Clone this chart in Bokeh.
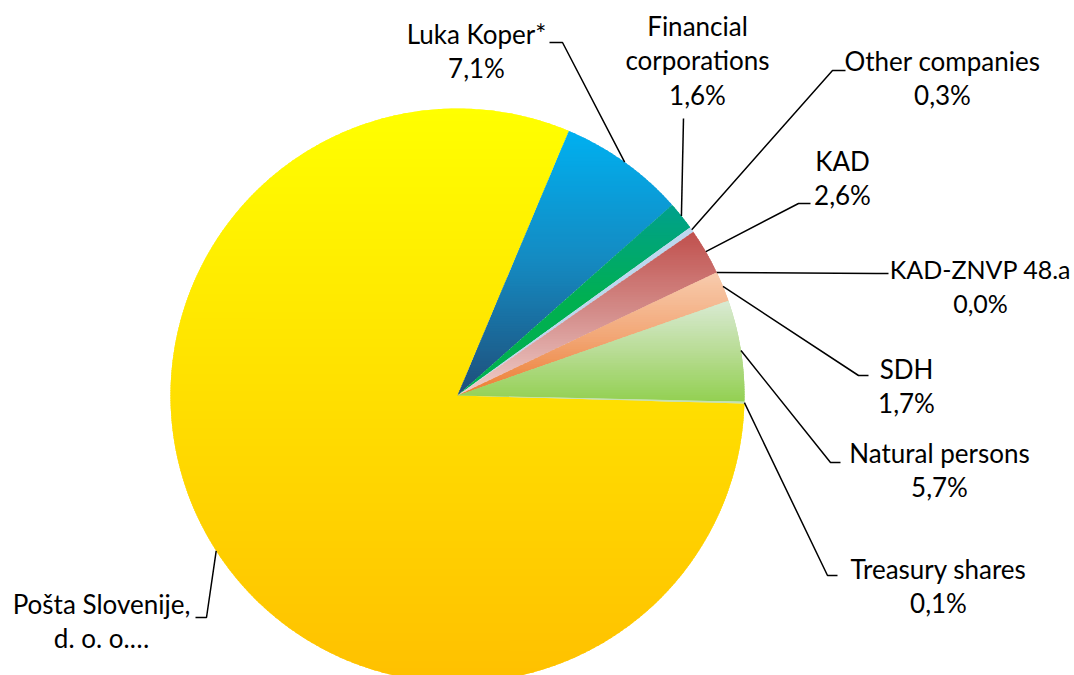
import math
import numpy as np
from bokeh.plotting import figure
from bokeh.models import Range1d, ColumnDataSource
from bokeh.core.properties import value
from bokeh.embed import file_html
from bokeh.resources import INLINE

# ---------------- data ----------------
categories = ["Pošta Slovenije, d. o. o.", "Luka Koper*", "Financial corporations",
              "Other companies", "KAD", "KAD-ZNVP 48.a", "SDH", "Natural persons",
              "Treasury shares"]
shares = [80.9, 7.1, 1.6, 0.3, 2.6, 0.0, 1.7, 5.7, 0.1]
label_names = [["Pošta Slovenije,", "d. o. o.…"], ["Luka Koper*"], ["Financial", "corporations"],
               ["Other companies"], ["KAD"], ["KAD-ZNVP 48.a"], ["SDH"], ["Natural persons"],
               ["Treasury shares"]]
show_pct = [False, True, True, True, True, True, True, True, True]

# ---------------- styles / layout ----------------
grad_stops = [
    ["#FFFF00", "#FFDF00", "#FFC000"],
    ["#00B0F0", "#1589C0", "#1F4E79"],
    ["#00A08C", "#00B050", "#00B050"],
    ["#BDD7EE", "#BDD7EE", "#BDD7EE"],
    ["#C0504D", "#D48E8B", "#F0D0CC"],
    ["#FFFFFF", "#FFFFFF", "#FFFFFF"],
    ["#F8CBAD", "#F2A878", "#ED7D31"],
    ["#D9EAD3", "#B8DC94", "#92D050"],
    ["#C5E0B4", "#C5E0B4", "#C5E0B4"],
]
label_pos = [(101, 603), (476, 33), (697, 25), (942, 60), (842, 160), (980, 268),
             (906, 368), (939, 452), (938, 568)]
label_size = ["26px", "26px", "26px", "26px", "26px", "25px", "26px", "26px", "26px"]
leader_elbow = [(206, 617), (562, 42), (683, 118), (832, 70), (798, 203), (876, 273),
                (858, 375), (830, 462), (827, 575)]
leader_end = [(195, 617), (549, 42), (683, 118), (845, 70), (810, 203), (888, 273),
              (868, 375), (840, 462), (837, 575)]
LINE_H = 34.5
FONT = "Lato"

W, H = 1074, 675
OX, OY = 0, 0                         # screen offset of the plot
CX, CY_S, R = 457, 395, 287          # pie centre (screen px) and radius
START_CW = 91.6                       # first slice start, degrees clockwise from 12 o'clock
BAND = 2.5                            # gradient band height (px)


def sy(y_screen):
    return 675 - y_screen


CY = sy(CY_S)

p = figure(width=W, height=H, output_backend="svg", toolbar_location=None,
           x_range=Range1d(OX, OX + W), y_range=Range1d(675 - OY - H, 675 - OY),
           min_border=0)
p.axis.visible = False
p.grid.visible = False
p.outline_line_color = None
p.background_fill_color = "white"


def hex2rgb(h):
    h = h.lstrip("#")
    return [int(h[i:i + 2], 16) for i in (0, 2, 4)]


def interp(stops, t):
    t = min(max(t, 0.0), 1.0)
    n = len(stops) - 1
    k = min(int(t * n), n - 1)
    f = t * n - k
    a, b = hex2rgb(stops[k]), hex2rgb(stops[k + 1])
    c = [round(a[i] + (b[i] - a[i]) * f) for i in range(3)]
    return "#%02x%02x%02x" % tuple(c)


def clip_band(poly, ylo, yhi):
    def clip(pts, inside, inter):
        out = []
        n = len(pts)
        for i in range(n):
            cur, prev = pts[i], pts[i - 1]
            ci, pi = inside(cur), inside(prev)
            if ci:
                if not pi:
                    out.append(inter(prev, cur))
                out.append(cur)
            elif pi:
                out.append(inter(prev, cur))
        return out

    def ix(yc):
        def f(a, b):
            t = (yc - a[1]) / (b[1] - a[1])
            return (a[0] + t * (b[0] - a[0]), yc)
        return f

    pts = clip(poly, lambda q: q[1] >= ylo, ix(ylo))
    if not pts:
        return []
    pts = clip(pts, lambda q: q[1] <= yhi, ix(yhi))
    return pts


total = sum(shares)
cw_start, cw_end = [], []
acc = START_CW
for v in shares:
    cw_start.append(acc)
    acc += v / total * 360.0
    cw_end.append(acc)

# base wedges (solid, from data)
base = ColumnDataSource(dict(
    x=[CX] * len(shares), y=[CY] * len(shares),
    start=[math.radians(90 - a) for a in cw_start],
    end=[math.radians(90 - b) for b in cw_end],
    color=[s[1] for s in grad_stops],
))
p.wedge(x="x", y="y", radius=R, start_angle="start", end_angle="end",
        direction="clock", fill_color="color", line_color=None, source=base)

# vertical gradient overlay of each slice: slice polygon cut into thin horizontal bands
gx, gy, gc = [], [], []
for i, v in enumerate(shares):
    if v <= 0:
        continue
    a0, a1 = cw_start[i], cw_end[i]
    n = max(8, int((a1 - a0) * 2))
    ang = np.radians(np.linspace(a0, a1, n))
    poly = [(CX, CY)] + [(CX + R * math.sin(a), CY + R * math.cos(a)) for a in ang]
    ys = [q[1] for q in poly]
    top, bot = max(ys), min(ys)
    nb = max(1, int(math.ceil((top - bot) / BAND)))
    edges = np.linspace(bot, top, nb + 1)
    for k in range(nb):
        lo, hi = edges[k], edges[k + 1]
        pts = clip_band(poly, lo - 0.6, hi + 0.6)
        if len(pts) < 3:
            continue
        t = (top - 0.5 * (lo + hi)) / (top - bot)
        gx.append([q[0] for q in pts])
        gy.append([q[1] for q in pts])
        gc.append(interp(grad_stops[i], t))

p.patches(xs=gx, ys=gy, fill_color=gc, line_color=None)

# leader lines: from slice mid-angle on the rim to the label
lx, ly = [], []
for i, v in enumerate(shares):
    mid = 0.5 * (cw_start[i] + cw_end[i])
    ax = CX + R * math.sin(math.radians(mid))
    ay = CY + R * math.cos(math.radians(mid))
    ex, ey = leader_elbow[i]
    hx, hy = leader_end[i]
    lx.append([ax, ex, hx])
    ly.append([ay, sy(ey), sy(hy)])
p.multi_line(xs=lx, ys=ly, line_color="black", line_width=1.5)

# labels
tx, ty, tt, ts = [], [], [], []
for i, v in enumerate(shares):
    lines = list(label_names[i])
    if show_pct[i]:
        lines.append(("%.1f" % v).replace(".", ",") + "%")
    cx_l, cy_l = label_pos[i]
    for k, s in enumerate(lines):
        tx.append(cx_l)
        ty.append(sy(cy_l + k * LINE_H))
        tt.append(s)
        ts.append(label_size[i])
src_t = ColumnDataSource(dict(x=tx, y=ty, text=tt, size=ts))
p.text(x="x", y="y", text="text", text_align="center", text_baseline="middle",
       text_font=value(FONT), text_font_size="size", text_color="black", source=src_t)

open("out.html", "w").write(file_html(p, INLINE))
